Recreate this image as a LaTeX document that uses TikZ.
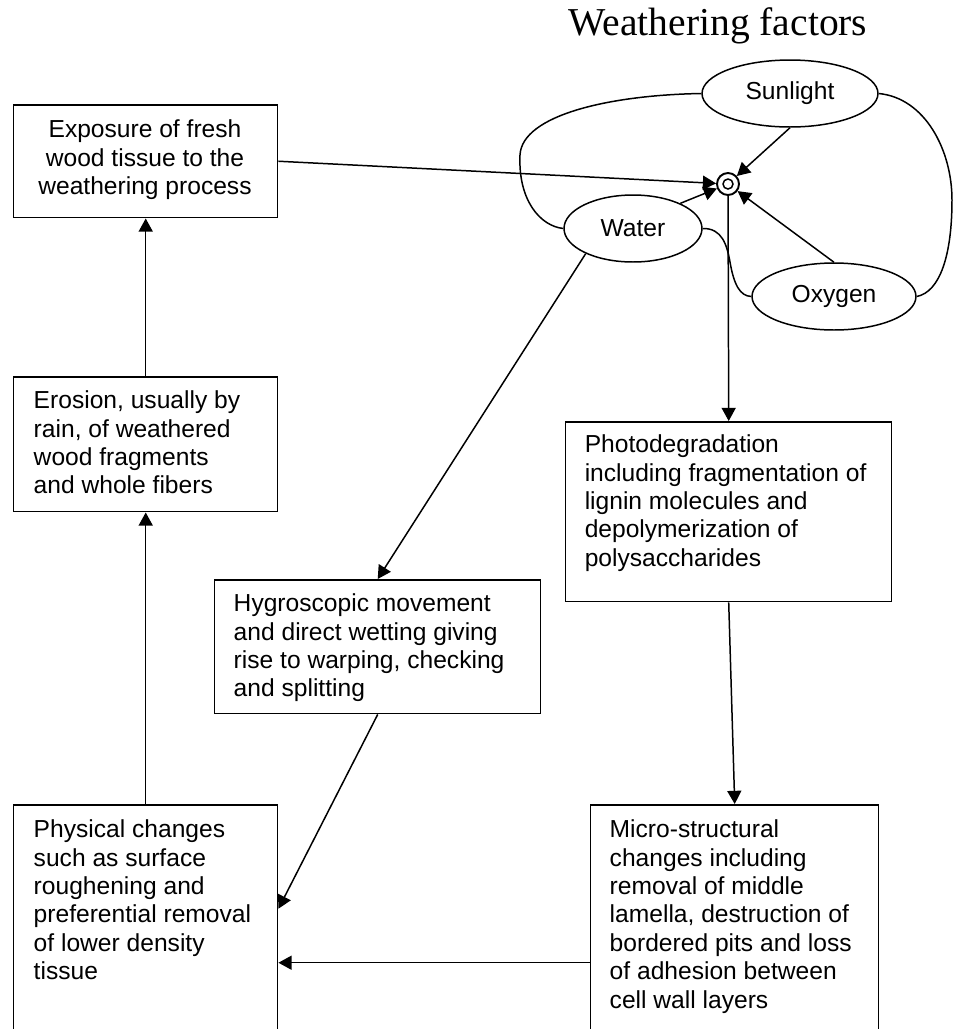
\documentclass[tikz,border=0pt]{standalone}
\usepackage{fontspec}
\setmainfont{Liberation Sans}
\newfontfamily\titlefont{Liberation Serif}
\usetikzlibrary{arrows.meta,shapes.geometric,calc}
\begin{document}
\begin{tikzpicture}[x=0.02cm,y=-0.02cm,
  line width=0.85pt,
  box/.style={draw, rectangle, inner sep=0pt, anchor=north west},
  txt/.style={inner sep=0pt, anchor=north west, align=left, font=\fontsize{14}{16.2}\selectfont},
  ell/.style={draw, ellipse, inner sep=0pt, minimum height=1.34cm, font=\fontsize{14}{16.2}\selectfont},
  arr/.style={-{Triangle[length=7.5pt,width=8pt]}}
]
\useasboundingbox (0,0) rectangle (953,1029);
\clip (0,0) rectangle (953,1029);

% title
\node[font=\titlefont\fontsize{22.5}{26}\selectfont, anchor=base, inner sep=0pt] (title) at (718,35) {Weathering factors};

% boxes
\node[box, minimum width=5.28cm, minimum height=2.26cm] (ex) at (13,104) {};
\node[box, minimum width=5.28cm, minimum height=2.70cm] (er) at (13,376) {};
\node[box, minimum width=5.28cm, minimum height=6.32cm] (ph) at (13,804) {};
\node[box, minimum width=6.52cm, minimum height=2.68cm] (hy) at (214,579) {};
\node[box, minimum width=6.52cm, minimum height=3.60cm] (pd) at (565,421) {};
\node[box, minimum width=5.76cm, minimum height=6.32cm] (mi) at (590,804) {};

% texts
\node[txt, anchor=north, align=center] (tex) at (145,119) {Exposure of fresh\\wood tissue to the\\weathering process};
\node[txt] (ter) at (33,390) {Erosion, usually by\\rain, of weathered\\wood fragments\\and whole fibers};
\node[txt] (tph) at (33,819) {Physical changes\\such as surface\\roughening and\\preferential removal\\of lower density\\tissue};
\node[txt] (thy) at (233,593) {Hygroscopic movement\\and direct wetting giving\\rise to warping, checking\\and splitting};
\node[txt] (tpd) at (584,434) {Photodegradation\\including fragmentation of\\lignin molecules and\\depolymerization of\\polysaccharides};
\node[txt] (tmi) at (609,819) {Micro-structural\\changes including\\removal of middle\\lamella, destruction of\\bordered pits and loss\\of adhesion between\\cell wall layers};

% weathering factors
\node[ell, minimum width=3.52cm] (sun) at (790,93.5) {Sunlight};
\node[ell, minimum width=2.76cm] (wat) at (633,228.5) {Water};
\node[ell, minimum width=3.28cm] (oxy) at (834,296.5) {Oxygen};

\node[draw, circle, minimum size=0.44cm, inner sep=0pt, line width=1.1pt] (tgt) at (728,184) {};
\node[draw, circle, minimum size=0.2cm, inner sep=0pt] (tgi) at (tgt.center) {};

% loop curves
\draw (sun.west) .. controls (610,95) and (522,115) .. (520,155) .. controls (518,200) and (540,226) .. (wat.west);
\draw (wat.east) .. controls (722,228) and (727,245) .. (730,262) .. controls (734,285) and (740,296) .. (oxy.west);
\draw (sun.east) .. controls (925,98) and (952,150) .. (952,200) .. controls (952,255) and (940,292) .. (oxy.east);

% arrows
\draw[arr] (ex.east) -- (tgt);
\draw[arr] (sun.south) -- (tgt);
\draw[arr] (wat.28) -- (tgt);
\draw[arr] (oxy.north) -- (tgt);
\draw[arr] (tgt) -- (pd.north);
\draw[arr] (wat.208) -- (hy.north);
\draw[arr] (pd.south) -- (mi.north);
\draw[arr] (mi.west) -- (ph.east);
\draw[arr] (hy.south) -- ($(ph.east)+(0,-54)$);
\draw[arr] (ph.north) -- (er.south);
\draw[arr] (er.north) -- (ex.south);
\end{tikzpicture}
\end{document}
